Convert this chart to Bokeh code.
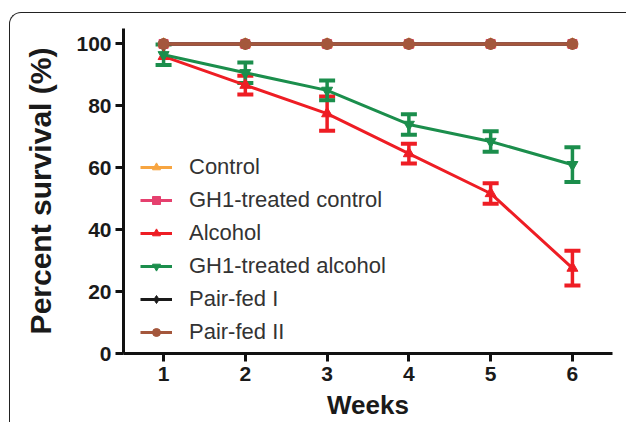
from bokeh.plotting import figure
from bokeh.models import (ColumnDataSource, Whisker, TeeHead, Legend, LegendItem,
                          Range1d, FixedTicker)
from bokeh.embed import file_html
from bokeh.resources import INLINE

# ---- data ----
weeks = [1, 2, 3, 4, 5, 6]
x_ticks = [1, 2, 3, 4, 5, 6]
y_ticks = [0, 20, 40, 60, 80, 100]

control = [100, 100, 100, 100, 100, 100]
gh1_control = [100, 100, 100, 100, 100, 100]
alcohol = [96.0, 86.7, 77.5, 64.6, 51.7, 27.6]
alcohol_err = [0.0, 3.0, 5.5, 3.2, 3.3, 5.6]
gh1_alcohol = [96.5, 90.7, 85.0, 74.0, 68.5, 61.0]
gh1_alcohol_err = [3.3, 3.3, 3.2, 3.3, 3.3, 5.6]
pair_fed_1 = [100, 100, 100, 100, 100, 100]
pair_fed_2 = [100, 100, 100, 100, 100, 100]

series_names = ["Control", "GH1-treated control", "Alcohol",
                "GH1-treated alcohol", "Pair-fed I", "Pair-fed II"]
series_values = [control, gh1_control, alcohol, gh1_alcohol, pair_fed_1, pair_fed_2]
series_errors = [None, None, alcohol_err, gh1_alcohol_err, None, None]
series_colors = ["#F7A541", "#E5406E", "#EE1D24", "#1B8E4C", "#1A1A1A", "#A4573C"]
series_markers = ["triangle", "square", "triangle", "inverted_triangle", "diamond", "circle"]
series_sizes = [11, 9, 11, 11, 11, 11]

FONT = "Liberation Sans"

p = figure(width=617, height=410,
           x_range=Range1d(0.51, 6.49), y_range=Range1d(0, 105),
           output_backend="svg", toolbar_location=None,
           min_border_left=113, min_border_right=15,
           min_border_top=15, min_border_bottom=70,
           border_fill_color=None, background_fill_color="white",
           outline_line_color=None)
p.margin = (12, 0, 0, 9)
p.styles = {"border-top": "1px solid #222", "border-left": "1px solid #222",
            "border-top-left-radius": "12px", "background": "white"}

p.xgrid.visible = False
p.ygrid.visible = False

for ax in (p.xaxis[0], p.yaxis[0]):
    ax.axis_line_width = 3
    ax.axis_line_color = "#111111"
    ax.major_tick_line_width = 3
    ax.major_tick_line_color = "#111111"
    ax.major_tick_in = 0
    ax.major_tick_out = 8
    ax.minor_tick_line_color = None
    ax.major_label_text_font = FONT
    ax.major_label_text_font_style = "bold"
    ax.major_label_text_font_size = "21px"
    ax.major_label_text_color = "#1A1A1A"
    ax.axis_label_text_font = FONT
    ax.axis_label_text_font_style = "bold"
    ax.axis_label_text_color = "#1A1A1A"

p.xaxis[0].ticker = FixedTicker(ticks=x_ticks)
p.yaxis[0].ticker = FixedTicker(ticks=y_ticks)
p.xaxis[0].major_label_standoff = 5
p.yaxis[0].major_label_standoff = 4

p.yaxis[0].axis_label = "Percent survival (%)"
p.yaxis[0].axis_label_text_font_size = "30px"
p.yaxis[0].axis_label_standoff = 16

p.xaxis[0].axis_label = "Weeks"
p.xaxis[0].axis_label_text_font_size = "26px"
p.xaxis[0].axis_label_standoff = 6

items = []
for name, vals, errs, col, mk, sz in zip(series_names, series_values, series_errors,
                                        series_colors, series_markers, series_sizes):
    if errs is not None:
        xs = [w for w, e in zip(weeks, errs) if e > 0]
        ups = [v + e for v, e in zip(vals, errs) if e > 0]
        los = [v - e for v, e in zip(vals, errs) if e > 0]
        wsrc = ColumnDataSource(dict(base=xs, upper=ups, lower=los))
        wh = Whisker(source=wsrc, base="base", upper="upper", lower="lower",
                     dimension="height", line_color=col, line_width=3.5,
                     upper_head=TeeHead(size=16, line_width=4, line_color=col),
                     lower_head=TeeHead(size=16, line_width=4, line_color=col))
        p.add_layout(wh)
    src = ColumnDataSource(dict(x=weeks, y=vals))
    ln = p.line("x", "y", source=src, line_color=col, line_width=3)
    sc = p.scatter("x", "y", source=src, marker=mk, size=sz,
                   fill_color=col, line_color=col)
    items.append(LegendItem(label=name, renderers=[ln, sc]))

legend = Legend(items=items, location=(17, 8), border_line_color=None,
                background_fill_alpha=0, padding=0, margin=0,
                glyph_width=32, glyph_height=20, label_height=20, spacing=7,
                label_standoff=17, label_text_font=FONT,
                label_text_font_size="22px", label_text_color="#333333")
p.add_layout(legend, "center")

open("out.html", "w").write(file_html(p, INLINE))
